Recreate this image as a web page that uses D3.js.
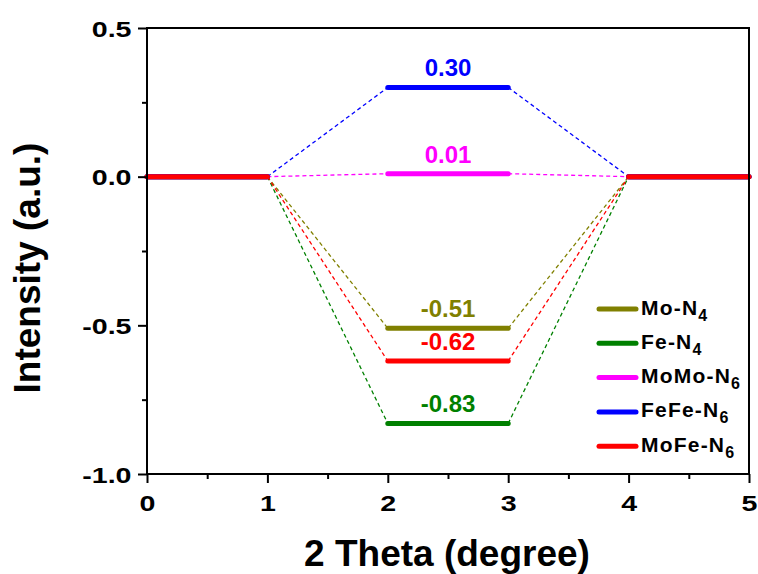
<!DOCTYPE html>
<html>
<head>
<meta charset="utf-8">
<script src="https://cdn.jsdelivr.net/npm/d3@7"></script>
<style>
  html, body { margin: 0; padding: 0; background: #fff; }
  svg text { font-family: "Liberation Sans", Arial, sans-serif; font-weight: bold; }
</style>
</head>
<body>
<svg id="chart" width="758" height="574"></svg>
<script>
// Energy-level diagram: each structure has a flat level between x=2 and x=3,
// joined by dashed connectors to the zero reference on both sides.
const seriesNames = ["Mo-N4", "Fe-N4", "MoMo-N6", "FeFe-N6", "MoFe-N6"];
const seriesLevels = [-0.51, -0.83, 0.01, 0.30, -0.62];
const seriesColors = ["#808000", "#008000", "#ff00ff", "#0000ff", "#ff0000"];
const levelLabels = ["-0.51", "-0.83", "0.01", "0.30", "-0.62"];

// x positions of the profile: zero plateau, level plateau, zero plateau
const stageX = [0, 1, 2, 3, 4, 5];

const xTicks = [0, 1, 2, 3, 4, 5];
const xTickLabels = ["0", "1", "2", "3", "4", "5"];
const xMinor = [0.5, 1.5, 2.5, 3.5, 4.5];
const yTicks = [0.5, 0.0, -0.5, -1.0];
const yTickLabels = ["0.5", "0.0", "-0.5", "-1.0"];
const yMinor = [0.25, -0.25, -0.75];

const svg = d3.select("#chart");
const plotLeft = 147, plotRight = 749, plotTop = 28, plotBottom = 474;
const tickStretch = 1.3; // wide tick-label lettering

const x = d3.scaleLinear().domain([0, 5]).range([plotLeft, plotRight]);
const y = d3.scaleLinear().domain([-1.0, 0.5]).range([plotBottom, plotTop]);

// Series profiles
const lineGen = d3.line().x(d => x(d[0])).y(d => y(d[1]));

const g = svg.append("g");
seriesNames.forEach((name, i) => {
  const v = seriesLevels[i];
  const vals = [0, 0, v, v, 0, 0];
  const pts = stageX.map((sx, k) => [sx, vals[k]]);
  // dashed connectors
  [[pts[1], pts[2]], [pts[3], pts[4]]].forEach(seg => {
    g.append("path")
      .attr("d", lineGen(seg))
      .attr("fill", "none")
      .attr("stroke", seriesColors[i])
      .attr("stroke-width", 1.3)
      .attr("stroke-dasharray", "4,3");
  });
});
seriesNames.forEach((name, i) => {
  const v = seriesLevels[i];
  const vals = [0, 0, v, v, 0, 0];
  const pts = stageX.map((sx, k) => [sx, vals[k]]);
  // thick plateaus
  [[pts[0], pts[1]], [pts[2], pts[3]], [pts[4], pts[5]]].forEach(seg => {
    g.append("path")
      .attr("d", lineGen(seg))
      .attr("fill", "none")
      .attr("stroke", seriesColors[i])
      .attr("stroke-width", 5)
      .attr("stroke-linecap", "round");
  });
});

// Value labels above each level
seriesNames.forEach((name, i) => {
  svg.append("text")
    .attr("x", x(2.5))
    .attr("y", y(seriesLevels[i]) - 11)
    .attr("text-anchor", "middle")
    .style("font-size", "24px")
    .attr("fill", seriesColors[i])
    .text(levelLabels[i]);
});

// Frame
svg.append("rect")
  .attr("x", plotLeft).attr("y", plotTop)
  .attr("width", plotRight - plotLeft).attr("height", plotBottom - plotTop)
  .attr("fill", "none").attr("stroke", "#000").attr("stroke-width", 2);

// Axes
const xAxis = svg.append("g").attr("transform", `translate(0,${plotBottom})`)
  .call(d3.axisBottom(x).tickValues(xTicks).tickSize(9).tickPadding(0)
    .tickFormat((d, i) => xTickLabels[i]));
const xAxisMinor = svg.append("g").attr("transform", `translate(0,${plotBottom})`)
  .call(d3.axisBottom(x).tickValues(xMinor).tickSize(5).tickFormat(""));
const yAxis = svg.append("g").attr("transform", `translate(${plotLeft},0)`)
  .call(d3.axisLeft(y).tickValues(yTicks).tickSize(9).tickPadding(6)
    .tickFormat((d, i) => yTickLabels[i]));
const yAxisMinor = svg.append("g").attr("transform", `translate(${plotLeft},0)`)
  .call(d3.axisLeft(y).tickValues(yMinor).tickSize(5).tickFormat(""));

[xAxis, xAxisMinor, yAxis, yAxisMinor].forEach(a => {
  a.select(".domain").remove();
  a.attr("font-size", null).attr("font-family", null);
  a.selectAll(".tick line").attr("stroke", "#000").attr("stroke-width", 2);
  a.selectAll(".tick text")
    .style("font-size", "22px")
    .style("font-weight", "bold")
    .attr("fill", "#000");
});
xAxis.selectAll(".tick text")
  .attr("y", 0).attr("dy", null)
  .attr("transform", `translate(0,37) scale(${tickStretch},1)`);
yAxis.selectAll(".tick text")
  .attr("x", 0).attr("dy", null)
  .attr("transform", `translate(-15.5,8) scale(${tickStretch},1)`);

// Axis titles
svg.append("text")
  .attr("x", (plotLeft + plotRight) / 2 - 1)
  .attr("y", 566)
  .attr("text-anchor", "middle")
  .style("font-size", "37px")
  .attr("fill", "#000")
  .text("2 Theta (degree)");

svg.append("text")
  .attr("transform", `translate(40,${(plotTop + plotBottom) / 2 + 17}) rotate(-90)`)
  .attr("text-anchor", "middle")
  .style("font-size", "37px")
  .attr("fill", "#000")
  .text("Intensity (a.u.)");

// Legend
const legend = svg.append("g");
const legendY0 = 309, legendStep = 34.3;
seriesNames.forEach((name, i) => {
  const ly = legendY0 + i * legendStep;
  legend.append("line")
    .attr("x1", 599).attr("x2", 636)
    .attr("y1", ly).attr("y2", ly)
    .attr("stroke", seriesColors[i])
    .attr("stroke-width", 5)
    .attr("stroke-linecap", "round");
  const m = name.match(/^(.*?)(\d+)$/);
  const t = legend.append("text")
    .attr("x", 641).attr("y", ly + 5.5)
    .style("font-size", "21px")
    .attr("letter-spacing", 1.2)
    .attr("fill", "#000");
  t.append("tspan").text(m[1]);
  t.append("tspan").style("font-size", "16px").attr("dy", 6).text(m[2]);
});
</script>
</body>
</html>
